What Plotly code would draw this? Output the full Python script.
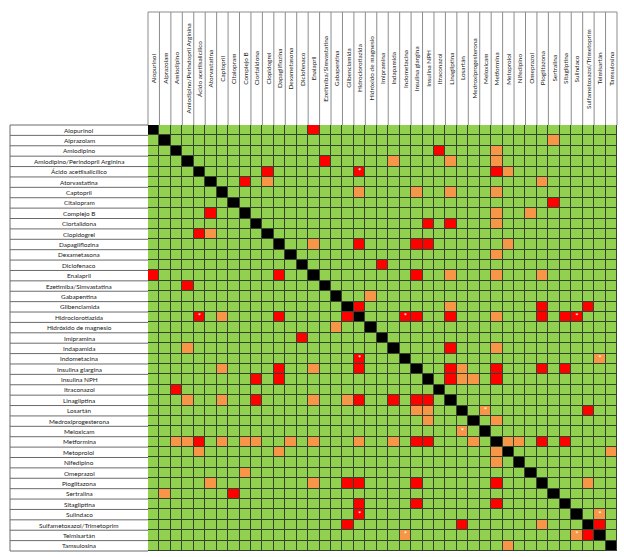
import plotly.graph_objects as go

# Medicamentos (filas y columnas en el mismo orden)
medicamentos = [
    'Alopurinol', 'Alprazolam', 'Amlodipino', 'Amlodipino/Perindopril Arginina',
    'Ácido acetilsalicílico', 'Atorvastatina', 'Captopril', 'Citalopram', 'Complejo B',
    'Clortalidona', 'Clopidogrel', 'Dapagliflozina', 'Dexametasona', 'Diclofenaco',
    'Enalapril', 'Ezetimiba/Simvastatina', 'Gabapentina', 'Glibenclamida',
    'Hidroclorotiazida', 'Hidróxido de magnesio', 'Imipramina', 'Indapamida',
    'Indometacina', 'Insulina glargina', 'Insulina NPH', 'Itraconazol', 'Linagliptina',
    'Losartán', 'Medroxiprogesterona', 'Meloxicam', 'Metformina', 'Metoprolol',
    'Nifedipino', 'Omeprazol', 'Pioglitazona', 'Sertralina', 'Sitagliptina', 'Sulindaco',
    'Sulfametoxazol/Trimetoprim', 'Telmisartán', 'Tamsulosina',
]

# Interacciones (fila, columna)
pares_rojo = [
    (0, 14), (2, 25), (3, 15), (4, 10), (4, 18), (4, 30), (5, 8), (7, 35), (8, 5),
    (9, 24), (9, 26), (10, 4), (11, 18), (11, 23), (11, 24), (13, 20), (14, 0), (14, 11),
    (14, 23), (15, 3), (17, 18), (17, 34), (17, 38), (18, 4), (18, 11), (18, 17), (18, 22),
    (18, 23), (18, 26), (18, 34), (18, 36), (18, 37), (20, 13), (21, 26), (22, 18),
    (23, 11), (23, 18), (23, 26), (23, 30), (23, 34), (23, 36), (24, 9), (24, 11),
    (24, 26), (24, 30), (25, 2), (26, 9), (26, 18), (26, 21), (26, 23), (26, 24), (27, 38),
    (30, 4), (30, 23), (30, 24), (30, 34), (30, 36), (34, 17), (34, 18), (34, 23), (34, 30),
    (35, 7), (36, 18), (36, 23), (36, 30), (37, 18), (38, 17), (38, 27), (38, 39), (39, 38),
]
pares_naranja = [
    (1, 35), (2, 30), (3, 21), (3, 26), (3, 30), (4, 31), (5, 10), (5, 34), (6, 18),
    (6, 23), (6, 26), (6, 30), (8, 30), (8, 33), (9, 30), (10, 5), (11, 14), (11, 31),
    (12, 30), (14, 26), (14, 30), (14, 34), (16, 19), (17, 26), (18, 6), (18, 30), (19, 16),
    (21, 3), (21, 30), (22, 39), (23, 6), (23, 14), (23, 27), (24, 27), (24, 28), (26, 3),
    (26, 6), (26, 14), (26, 17), (27, 23), (27, 24), (27, 29), (28, 24), (28, 30), (29, 27),
    (30, 2), (30, 3), (30, 6), (30, 8), (30, 9), (30, 12), (30, 14), (30, 18), (30, 21),
    (30, 28), (30, 31), (30, 32), (31, 4), (31, 11), (31, 30), (31, 40), (32, 30), (33, 8),
    (34, 5), (34, 14), (34, 38), (35, 1), (37, 39), (38, 34), (39, 22), (39, 37), (40, 31),
]
pares_asterisco = [
    (4, 18), (18, 4), (18, 22), (22, 18), (18, 37), (37, 18), (22, 39), (39, 22),
    (27, 29), (29, 27), (37, 39), (39, 37),
]

n = len(medicamentos)

# Matriz: 0 sin interacción, 1 naranja, 2 rojo, 3 diagonal
z = [[0] * n for _ in range(n)]
for r, c in pares_naranja:
    z[r][c] = 1
for r, c in pares_rojo:
    z[r][c] = 2
for i in range(n):
    z[i][i] = 3

verde = '#92D050'
naranja = '#F79646'
rojo = '#FF0000'
negro = '#000000'
escala = [
    [0, verde], [1 / 6, verde], [1 / 6, naranja], [0.5, naranja],
    [0.5, rojo], [5 / 6, rojo], [5 / 6, negro], [1, negro],
]

fig = go.Figure()

fig.add_trace(go.Heatmap(
    z=z,
    x=list(range(n)),
    y=list(range(n)),
    zmin=0, zmax=3,
    colorscale=escala,
    showscale=False,
    xgap=1, ygap=1,
    hoverinfo='skip',
))

# Asteriscos blancos
fig.add_trace(go.Scatter(
    x=[c for r, c in pares_asterisco],
    y=[r for r, c in pares_asterisco],
    mode='text',
    text=['*'] * len(pares_asterisco),
    textfont=dict(color='white', size=8, family='Lato'),
    textposition='middle center',
    hoverinfo='skip',
    showlegend=False,
))

fuente = dict(family='Lato, sans-serif', size=6.4, color='#1a1a1a')

W, H = 624, 557
ml, mr, mt, mb = 148, 7, 125, 6
ancho = W - ml - mr
alto = H - mt - mb
x_tabla = (10 - ml) / ancho          # borde izquierdo de la tabla de nombres
x_centro = (79 - ml) / ancho
y_tope = 1 + (mt - 12) / alto        # borde superior de la cabecera
y_centro = 1 + (mt - 68.5) / alto

anotaciones = []
for i, nombre in enumerate(medicamentos):
    # nombres de columnas (verticales)
    anotaciones.append(dict(
        x=i, y=y_centro, xref='x', yref='paper', text=nombre, textangle=-90,
        showarrow=False, xanchor='center', yanchor='middle', font=fuente,
    ))
    # nombres de filas
    anotaciones.append(dict(
        x=x_centro, y=i, xref='paper', yref='y', text=nombre,
        showarrow=False, xanchor='center', yanchor='middle', font=fuente,
    ))

lineas = []
linea_cab = dict(color='#8c8c8c', width=1)
linea_fila = dict(color='#6a6a6a', width=1)
for k in range(n + 1):
    lineas.append(dict(type='line', xref='paper', yref='paper',
                       x0=k / n, x1=k / n, y0=1, y1=y_tope, line=linea_cab))
    lineas.append(dict(type='line', xref='paper', yref='paper',
                       x0=x_tabla, x1=0, y0=1 - k / n, y1=1 - k / n, line=linea_fila))
lineas.append(dict(type='line', xref='paper', yref='paper',
                   x0=0, x1=1, y0=y_tope, y1=y_tope, line=linea_cab))
lineas.append(dict(type='line', xref='paper', yref='paper',
                   x0=x_tabla, x1=x_tabla, y0=0, y1=1, line=linea_fila))

fig.update_layout(
    width=W, height=H,
    margin=dict(l=ml, r=mr, t=mt, b=mb),
    paper_bgcolor='white',
    plot_bgcolor='#34432c',
    showlegend=False,
    xaxis=dict(range=[-0.5, n - 0.5], visible=False, fixedrange=True),
    yaxis=dict(range=[n - 0.5, -0.5], visible=False, fixedrange=True),
    annotations=anotaciones,
    shapes=lineas,
)

fig.write_html('out.html', config={'displayModeBar': False},
               post_script="document.body.style.margin='0';")
